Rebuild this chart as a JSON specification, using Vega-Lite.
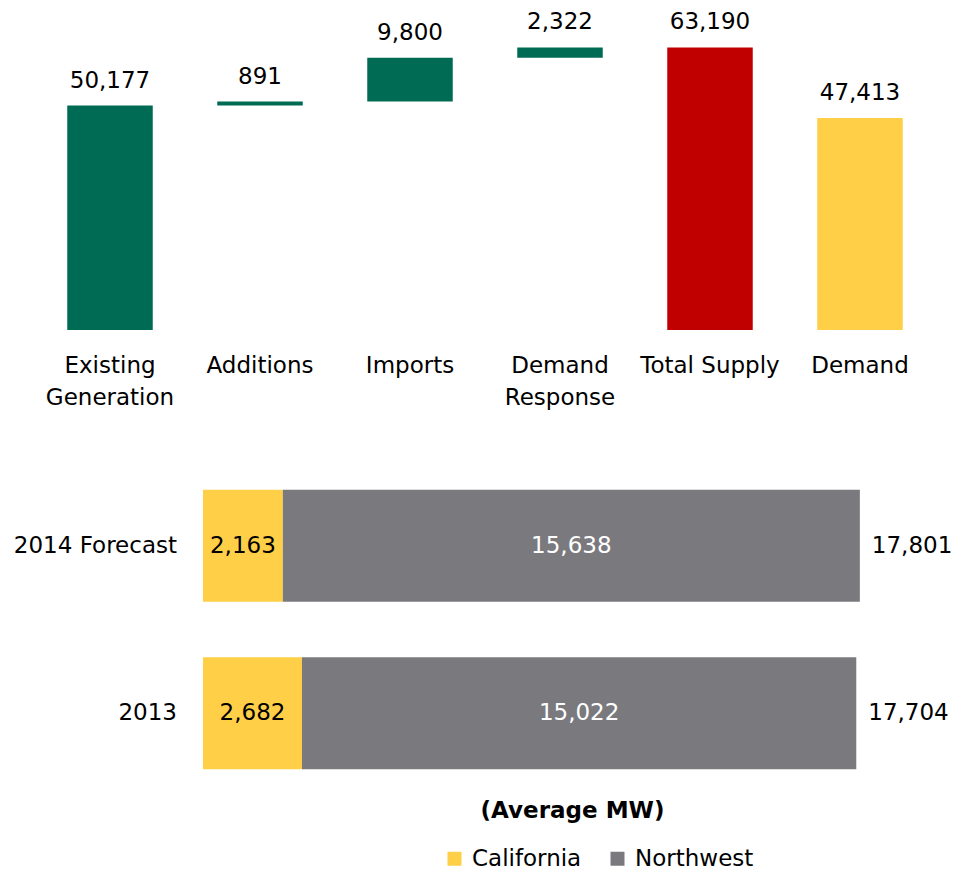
{
  "$schema": "https://vega.github.io/schema/vega-lite/v6.json",
  "padding": {"left": 13, "top": 8, "right": 0, "bottom": 0},
  "autosize": {"type": "pad"},
  "spacing": 64,
  "resolve": {"scale": {"color": "independent"}, "legend": {"color": "independent"}},
  "config": {"view": {"stroke": null}, "font": "DejaVu Sans"},
  "vconcat": [
    {
      "width": 900,
      "height": 322,
      "data": {"values": [
        {"category": "Existing Generation", "order": 1, "kind": "step", "group": "Supply", "value": 50177},
        {"category": "Additions", "order": 2, "kind": "step", "group": "Supply", "value": 891},
        {"category": "Imports", "order": 3, "kind": "step", "group": "Supply", "value": 9800},
        {"category": "Demand Response", "order": 4, "kind": "step", "group": "Supply", "value": 2322},
        {"category": "Total Supply", "order": 5, "kind": "total", "group": "Total Supply", "value": 63190},
        {"category": "Demand", "order": 6, "kind": "total", "group": "Demand", "value": 47413}
      ]},
      "transform": [
        {"window": [{"op": "sum", "field": "value", "as": "cum"}], "groupby": ["kind"], "sort": [{"field": "order"}], "frame": [null, 0]},
        {"calculate": "datum.kind == 'step' ? datum.cum : datum.value", "as": "end"},
        {"calculate": "datum.end - datum.value", "as": "start"}
      ],
      "encoding": {
        "x": {
          "field": "category", "type": "nominal",
          "sort": ["Existing Generation", "Additions", "Imports", "Demand Response", "Total Supply", "Demand"],
          "scale": {"paddingInner": 0.43, "paddingOuter": 0.215},
          "axis": {
            "title": null, "domain": false, "ticks": false, "grid": false,
            "labelAngle": 0, "labelFontSize": 23, "labelFont": "DejaVu Sans", "labelColor": "black",
            "labelPadding": 24, "labelLineHeight": 32, "labelBaseline": "top", "labelLimit": 0,
            "labelExpr": "datum.label == 'Existing Generation' ? ['Existing', 'Generation'] : datum.label == 'Demand Response' ? ['Demand', 'Response'] : datum.label"
          }
        }
      },
      "layer": [
        {
          "mark": {"type": "bar"},
          "encoding": {
            "y": {"field": "end", "type": "quantitative", "scale": {"domain": [0, 72000], "nice": false}, "axis": null},
            "y2": {"field": "start"},
            "color": {
              "field": "group", "type": "nominal",
              "scale": {"domain": ["Supply", "Total Supply", "Demand"], "range": ["#006B54", "#C00000", "#FFCF47"]},
              "legend": null
            }
          }
        },
        {
          "mark": {"type": "text", "baseline": "alphabetic", "dy": -18, "fontSize": 23, "font": "DejaVu Sans", "color": "black"},
          "encoding": {
            "y": {"field": "end", "type": "quantitative"},
            "text": {"field": "value", "type": "quantitative", "format": ","}
          }
        }
      ]
    },
    {
      "width": 918,
      "height": 313,
      "data": {"values": [
        {"year": "2014 Forecast", "region": "California", "value": 2163},
        {"year": "2014 Forecast", "region": "Northwest", "value": 15638},
        {"year": "2013", "region": "California", "value": 2682},
        {"year": "2013", "region": "Northwest", "value": 15022}
      ]},
      "transform": [
        {"stack": "value", "groupby": ["year"], "sort": [{"field": "region"}], "as": ["x0", "x1"]},
        {"joinaggregate": [{"op": "sum", "field": "value", "as": "total"}], "groupby": ["year"]},
        {"calculate": "(datum.x0 + datum.x1) / 2", "as": "mid"}
      ],
      "encoding": {
        "y": {
          "field": "year", "type": "nominal", "sort": ["2014 Forecast", "2013"],
          "scale": {"paddingInner": 0.331, "paddingOuter": 0.1},
          "axis": null
        }
      },
      "layer": [
        {
          "mark": {"type": "bar"},
          "encoding": {
            "x": {
              "field": "x0", "type": "quantitative",
              "scale": {"domain": [0, 20000], "range": [168, 906], "nice": false},
              "axis": {
                "title": "(Average MW)", "labels": false, "ticks": false, "domain": false, "grid": false,
                "titleFontSize": 23, "titleFont": "DejaVu Sans", "titleFontWeight": "bold", "titleColor": "black",
                "titlePadding": 13, "titleX": 537, "titleAlign": "center"
              }
            },
            "x2": {"field": "x1"},
            "color": {
              "field": "region", "type": "nominal",
              "scale": {"domain": ["California", "Northwest"], "range": ["#FFCF47", "#7A7A7E"]},
              "legend": {
                "orient": "none", "legendX": 408, "legendY": 374, "direction": "horizontal", "title": null,
                "symbolType": "square", "symbolSize": 196, "symbolStrokeWidth": 0, "symbolOpacity": 1,
                "labelFontSize": 23, "labelFont": "DejaVu Sans", "labelColor": "black",
                "columnPadding": 24, "labelOffset": 6, "padding": 0
              }
            }
          }
        },
        {
          "mark": {"type": "text", "fontSize": 23, "font": "DejaVu Sans", "baseline": "middle", "align": "center"},
          "encoding": {
            "x": {"field": "mid", "type": "quantitative"},
            "text": {"field": "value", "type": "quantitative", "format": ","},
            "color": {"condition": {"test": "datum.region == 'Northwest'", "value": "white"}, "value": "black"}
          }
        },
        {
          "transform": [{"filter": "datum.region == 'Northwest'"}],
          "mark": {"type": "text", "fontSize": 23, "font": "DejaVu Sans", "baseline": "middle", "align": "left", "dx": 12, "color": "black"},
          "encoding": {
            "x": {"field": "total", "type": "quantitative"},
            "text": {"field": "total", "type": "quantitative", "format": ","}
          }
        },
        {
          "transform": [{"filter": "datum.region == 'California'"}],
          "mark": {"type": "text", "fontSize": 23, "font": "DejaVu Sans", "baseline": "middle", "align": "right", "dx": -26, "color": "black"},
          "encoding": {
            "x": {"datum": 0, "type": "quantitative"},
            "text": {"field": "year", "type": "nominal"}
          }
        }
      ]
    }
  ]
}
